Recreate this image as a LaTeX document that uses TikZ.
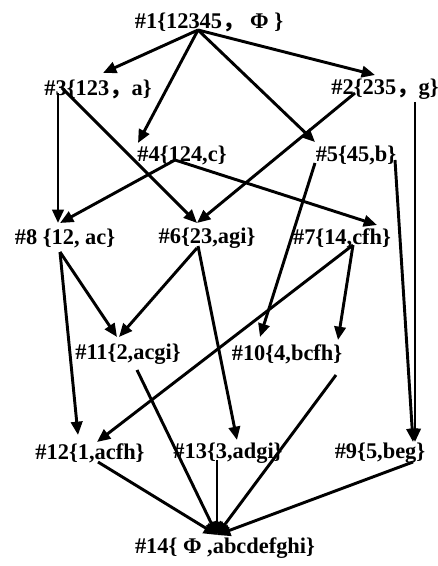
\documentclass[tikz,border=0pt]{standalone}
\usepackage{fontspec}
\setmainfont{Liberation Serif}
\newfontfamily\cjkfont{Noto Sans CJK SC}
\usetikzlibrary{arrows.meta,calc}
\newcommand{\fwc}{{\cjkfont ，}}

\begin{document}
\begin{tikzpicture}[x=0.75pt, y=-0.75pt, every node/.style={font=\fontsize{16.8}{20}\selectfont\bfseries}]
  \tikzset{
      setnode/.style={inner sep=0pt, anchor=center},
      edge/.style={line width=2.2pt, -{Triangle[length=10pt, width=8.5pt]}}
  }
  \useasboundingbox (0,0) rectangle (437,566);

  \node[setnode] (n1)  at (209,22)  {\#1\{12345\fwc\ Φ \}};
  \node[setnode] (n3)  at (98,89)   {\#3\{123\fwc a\}};
  \node[setnode] (n2)  at (385,89)  {\#2\{235\fwc g\}};
  \node[setnode] (n4)  at (182,155) {\#4\{124,c\}};
  \node[setnode] (n5)  at (356,155) {\#5\{45,b\}};
  \node[setnode] (n8)  at (65,238)  {\#8 \{12, ac\}};
  \node[setnode] (n6)  at (207,238) {\#6\{23,agi\}};
  \node[setnode] (n7)  at (342,238) {\#7\{14,cfh\}};
  \node[setnode] (n11) at (128,354) {\#11\{2,acgi\}};
  \node[setnode] (n10) at (287,354) {\#10\{4,bcfh\}};
  \node[setnode] (n12) at (90,453)  {\#12\{1,acfh\}};
  \node[setnode] (n13) at (228,453) {\#13\{3,adgi\}};
  \node[setnode] (n9)  at (380,453) {\#9\{5,beg\}};
  \node[setnode] (n14) at (225,548) {\#14\{ Φ ,abcdefghi\}};

  \draw[edge] ($(n1)+(-11,8)$) -- ($(n3)+(5,-16)$);
  \draw[edge] ($(n1)+(-11,8)$) -- ($(n4)+(-44,-12)$);
  \draw[edge] ($(n1)+(-11,8)$) -- ($(n5)+(-41,-13)$);
  \draw[edge] ($(n1)+(-11,8)$) -- ($(n2)+(-10,-14)$);

  \draw[edge] ($(n3)+(-40,4)$) -- ($(n8)+(-7,-15)$);
  \draw[edge] ($(n3)+(-36,-1)$) -- ($(n6)+(-10,-15)$);
  \draw[edge] ($(n2)+(-30,4)$) -- ($(n6)+(-10,-15)$);
  \draw[edge] ($(n2)+(30,13)$) -- ($(n9)+(35,-11)$);

  \draw[edge] ($(n4)+(-7,5)$) -- ($(n8)+(-5,-15)$);
  \draw[edge] ($(n4)+(-7,5)$) -- ($(n7)+(35,-13)$);
  \draw[edge] ($(n5)+(-41,8)$) -- ($(n10)+(-27,-17)$);
  \draw[edge] ($(n5)+(39,5)$) -- ($(n9)+(33,-11)$);

  \draw[edge] ($(n8)+(-5,14)$) -- ($(n11)+(-11,-17)$);
  \draw[edge] ($(n8)+(-5,14)$) -- ($(n12)+(-12,-18)$);
  \draw[edge] ($(n6)+(-10,10)$) -- ($(n11)+(-9,-17)$);
  \draw[edge] ($(n6)+(-9,8)$) -- ($(n13)+(9,-13)$);
  \draw[edge] ($(n7)+(11,7)$) -- ($(n12)+(7,-11)$);
  \draw[edge] ($(n7)+(11,7)$) -- ($(n10)+(51,-14)$);

  \draw[edge] ($(n11)+(9,16)$) -- ($(n14)+(-8,-13)$);
  \draw[edge] ($(n10)+(49,21)$) -- ($(n14)+(-8,-13)$);
  \draw[edge] ($(n12)+(8,9)$) -- ($(n14)+(-8,-13)$);
  \draw[edge] ($(n13)+(-11,7)$) -- ($(n14)+(-8,-13)$);
  \draw[edge] ($(n9)+(33,9)$) -- ($(n14)+(-8,-13)$);
\end{tikzpicture}
\end{document}
